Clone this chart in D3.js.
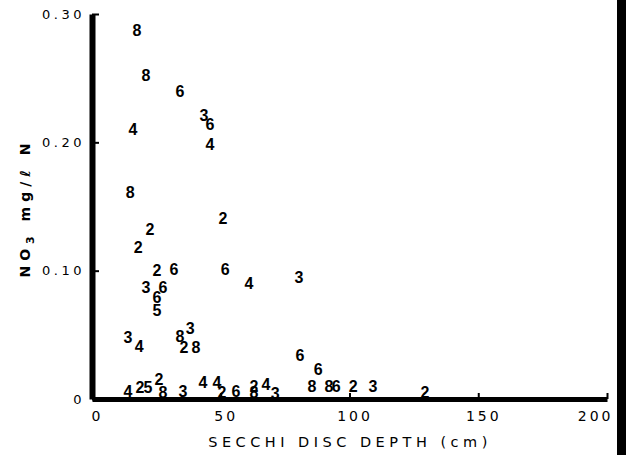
<!DOCTYPE html>
<html>
<head>
<meta charset="utf-8">
<script src="https://cdn.jsdelivr.net/npm/d3@7"></script>
<style>
  html, body { margin: 0; padding: 0; background: #fff; }
  svg { display: block; }
</style>
</head>
<body>
<svg id="chart" width="626" height="455"></svg>
<script>
// Station number plotted as the marker for each observation
const stations = ["8","8","6","3","6","4","4","8","2","2","2","2","6","6","4","3","3","6","6","5",
  "3","4","8","3","2","8","6","6",
  "4","2","5","2","8","3","4","4","2","6","2","8","4","3","8","8","6","2","3","2"];
// Secchi disc depth (cm)
const depth = [17.5,21.0,34.2,43.5,45.8,45.8,15.9,14.8,22.5,17.9,50.9,25.2,31.8,51.7,61.0,80.4,21.0,27.6,25.2,25.2,
  14.0,18.3,34.2,38.1,35.7,40.4,80.8,87.8,
  14.0,18.6,21.7,26.0,27.6,35.3,43.1,48.5,50.5,55.9,62.9,62.9,67.6,71.1,85.4,92.0,94.8,101.4,109.1,129.3];
// NO3 (mg/l N)
const no3 = [0.287,0.252,0.240,0.221,0.214,0.198,0.210,0.161,0.132,0.118,0.141,0.100,0.101,0.101,0.090,0.095,0.087,0.087,0.079,0.069,
  0.048,0.041,0.049,0.055,0.040,0.040,0.034,0.023,
  0.006,0.009,0.009,0.015,0.005,0.006,0.013,0.013,0.005,0.006,0.010,0.005,0.011,0.004,0.010,0.010,0.010,0.010,0.010,0.005];

const xTicks = [0, 50, 100, 150, 200];
const yTicks = [0, 0.10, 0.20, 0.30];
const xTitle = "SECCHI DISC DEPTH (cm)";

const svg = d3.select("#chart");
const x = d3.scaleLinear().domain([0, 200]).range([92, 607]);
const y = d3.scaleLinear().domain([0, 0.30]).range([399, 14]);

// right-edge scan bar
svg.append("rect").attr("x", 617).attr("y", 0).attr("width", 9).attr("height", 455).attr("fill", "#000");

// Y axis
const yAxis = svg.append("g").attr("transform", `translate(${x(0)},0)`)
  .call(d3.axisLeft(y).tickValues(yTicks).tickSize(-7).tickSizeOuter(0).tickPadding(7)
    .tickFormat(d => d === 0 ? "0" : d3.format(".2f")(d)));
yAxis.select(".domain").attr("stroke", "#000").attr("stroke-width", 6);
yAxis.selectAll(".tick line").attr("stroke", "#000").attr("stroke-width", 2);
yAxis.selectAll(".tick text").attr("font-family", "DejaVu Sans").attr("font-size", "13px")
  .attr("letter-spacing", "3.5px").attr("fill", "#000");

// X axis
const xAxis = svg.append("g").attr("transform", `translate(0,${y(0)})`)
  .call(d3.axisBottom(x).tickValues(xTicks).tickSize(-6).tickSizeOuter(0).tickPadding(12));
xAxis.select(".domain").attr("stroke", "#000").attr("stroke-width", 5);
xAxis.selectAll(".tick line").attr("stroke", "#000").attr("stroke-width", 2);
xAxis.selectAll(".tick text").attr("font-family", "DejaVu Sans").attr("font-size", "14px")
  .attr("letter-spacing", "3px").attr("fill", "#000")
  .attr("text-anchor", (d, i) => i === xTicks.length - 1 ? "end" : "middle")
  .attr("dx", (d, i) => i === xTicks.length - 1 ? 6 : 5);

// X title
svg.append("text").attr("x", 350).attr("y", 447).attr("text-anchor", "middle")
  .attr("font-family", "DejaVu Sans").attr("font-size", "14.5px").attr("letter-spacing", "4.5px")
  .text(xTitle);

// Y title (rotated)
const yt = svg.append("text").attr("transform", "translate(30,208) rotate(-90)")
  .attr("text-anchor", "middle").attr("font-family", "DejaVu Sans").attr("font-size", "14px")
  .attr("font-weight", "bold").attr("letter-spacing", "5px");
yt.append("tspan").text("NO");
yt.append("tspan").attr("dy", 4).attr("font-size", "11px").text("3");
yt.append("tspan").attr("dy", -4).text(" mg/ℓ N");

// Points (station numbers)
const pts = stations.map((s, i) => ({s, d: depth[i], v: no3[i]}));
svg.append("g").selectAll("text").data(pts).join("text")
  .attr("x", d => x(d.d)).attr("y", d => y(d.v))
  .attr("text-anchor", "middle").attr("dominant-baseline", "central")
  .attr("font-family", "Liberation Sans").attr("font-weight", "bold").attr("font-size", "16px")
  .attr("fill", "#000")
  .text(d => d.s);
</script>
</body>
</html>
